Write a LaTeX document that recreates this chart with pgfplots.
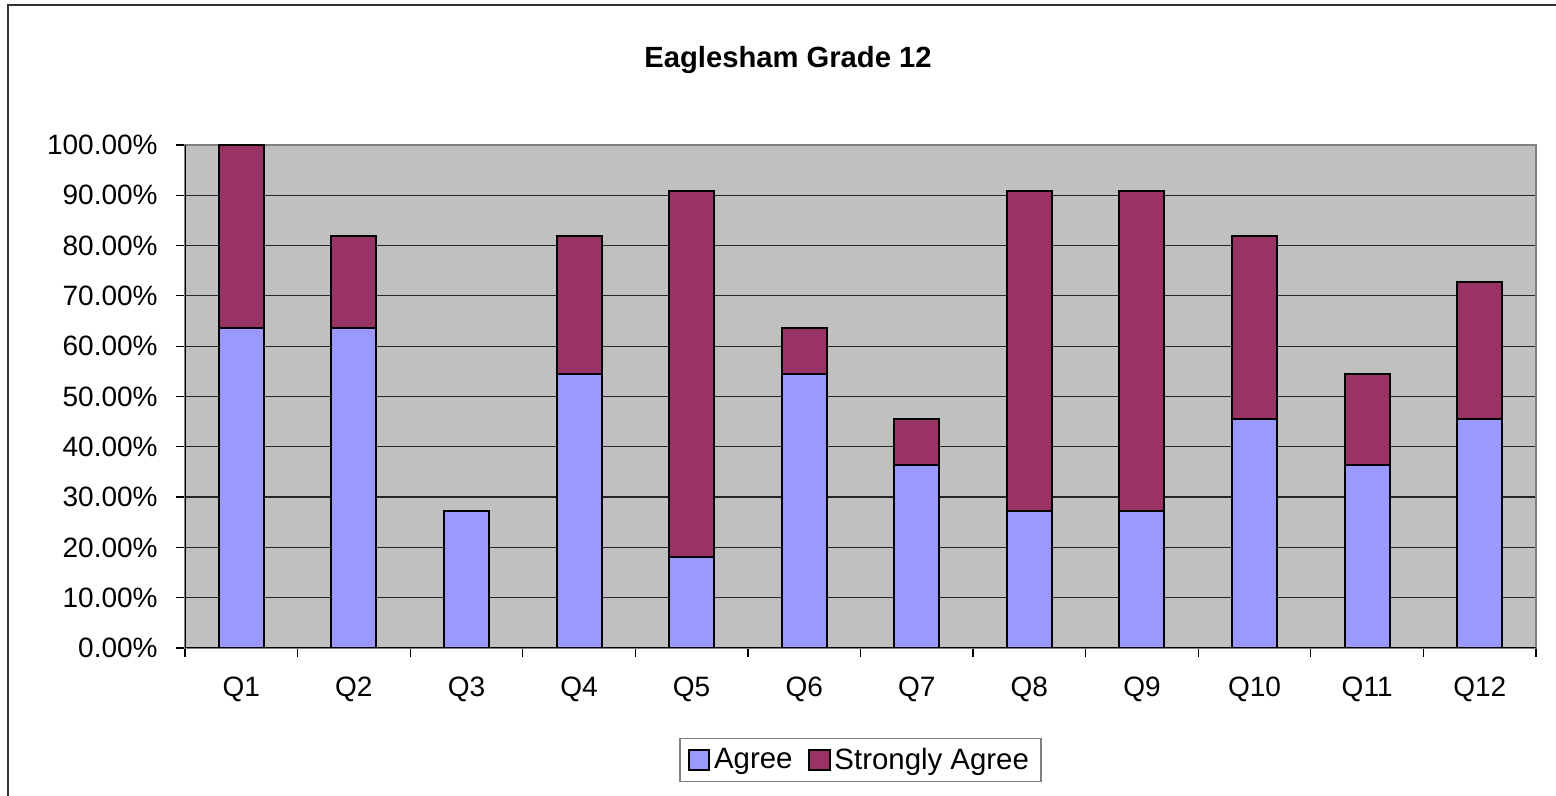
\documentclass[border=0pt]{standalone}
\usepackage{pgfplots}
\pgfplotsset{compat=1.18}
\usepackage{fontspec}
\setmainfont{Liberation Sans}
\definecolor{agree}{HTML}{9999FF}
\definecolor{sagree}{HTML}{993366}
\definecolor{plotbg}{HTML}{C0C0C0}
\definecolor{frame}{HTML}{808080}
\begin{document}
\begin{tikzpicture}
\useasboundingbox (0,0) rectangle (778pt,398pt);
\draw[line width=1pt, black!80] (4pt,-20pt) -- (4pt,395.5pt) -- (800pt,395.5pt);
\node[font=\fontsize{14.6}{16}\selectfont\bfseries] at (394pt,368pt) {Eaglesham Grade 12};
\begin{axis}[
  at={(92.5pt,74pt)}, anchor=south west,
  scale only axis, width=675.5pt, height=251.5pt,
  ybar stacked, bar width=22.5pt,
  xmin=0.5, xmax=12.5, ymin=0, ymax=100,
  axis background/.style={fill=plotbg},
  axis line style={draw=frame, line width=1pt},
  xtick={1,...,12},
  xticklabels={Q1,Q2,Q3,Q4,Q5,Q6,Q7,Q8,Q9,Q10,Q11,Q12},
  minor xtick={0.5,1.5,...,12.5},
  major x tick style={draw=none},
  minor x tick style={black, line width=0.6pt},
  ytick={0,10,...,100},
  yticklabels={0.00\%,10.00\%,20.00\%,30.00\%,40.00\%,50.00\%,60.00\%,70.00\%,80.00\%,90.00\%,100.00\%},
  y tick style={black, line width=0.6pt},
  tick align=outside, tick pos=left,
  major tick length=4.5pt, minor tick length=4.5pt,
  ymajorgrids, grid style={black!85, line width=0.6pt},
  ticklabel style={font=\fontsize{14}{16}\selectfont},
  yticklabel style={inner sep=0pt, xshift=-9pt},
  xticklabel style={inner sep=0pt, yshift=-10pt},
  legend style={at={(0.5,-0.2227)}, anchor=center, draw=frame, line width=0.6pt,
    font=\fontsize{14.7}{16}\selectfont, legend columns=-1,
    /tikz/every even column/.append style={column sep=6pt},
    inner xsep=4pt, inner ysep=2.5pt},
  legend image code/.code={\draw[#1, line width=1pt, draw=black] (0pt,-5pt) rectangle (10pt,5pt);},
  every axis plot/.append style={draw=black, line width=1pt},
]
\addplot[fill=agree] coordinates {(1,63.64) (2,63.64) (3,27.27) (4,54.55) (5,18.18) (6,54.55) (7,36.36) (8,27.27) (9,27.27) (10,45.45) (11,36.36) (12,45.45)};
\addplot[fill=sagree] coordinates {(1,36.36) (2,18.18) (3,0) (4,27.27) (5,72.73) (6,9.09) (7,9.09) (8,63.64) (9,63.64) (10,36.36) (11,18.18) (12,27.27)};
\legend{Agree,Strongly Agree}
\draw[black, line width=1pt] (rel axis cs:0,1) -- (rel axis cs:0,0) -- (rel axis cs:1,0);
\end{axis}
\end{tikzpicture}
\end{document}
